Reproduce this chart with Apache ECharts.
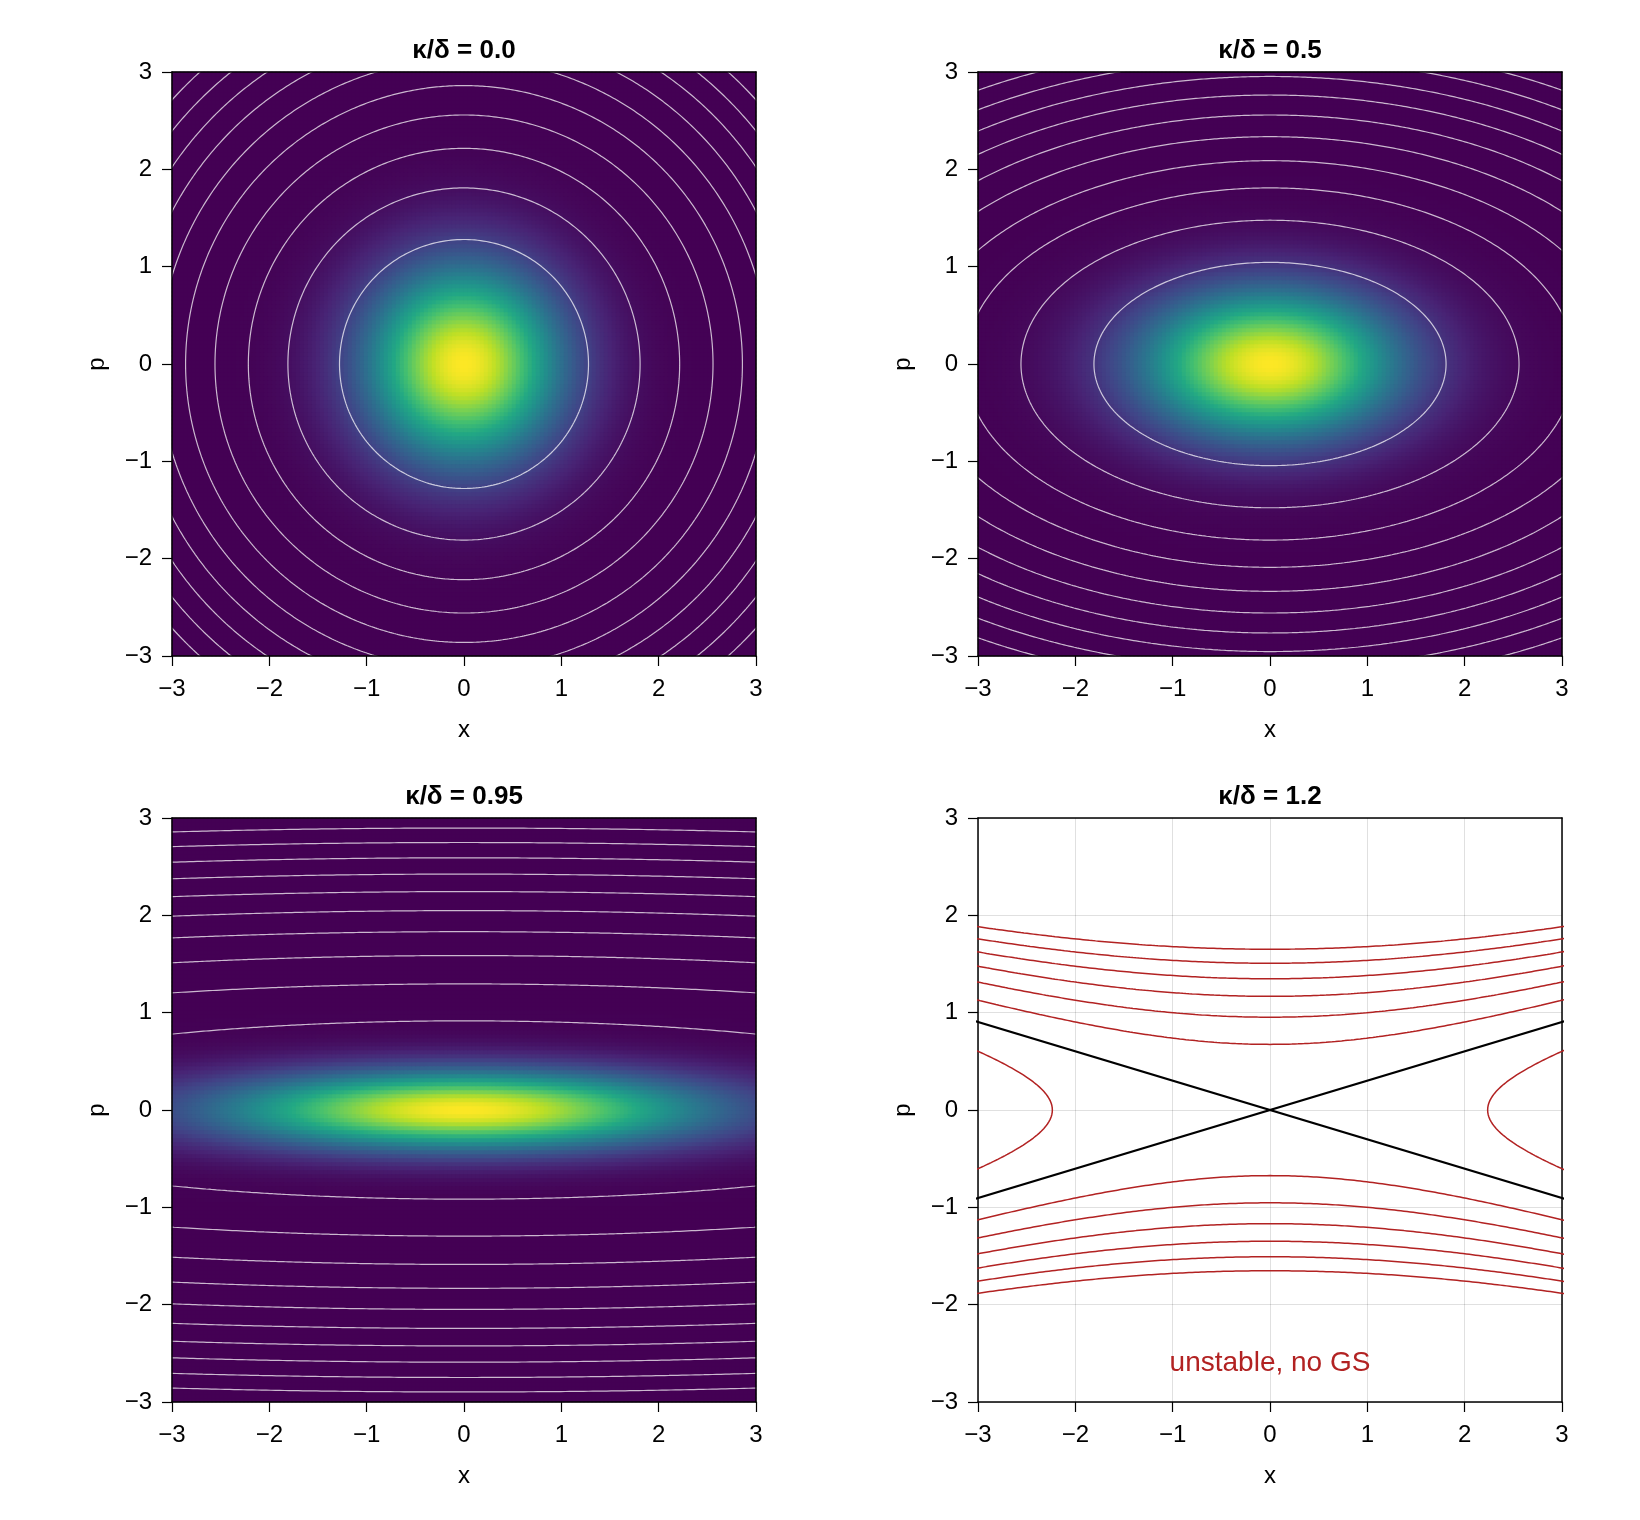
<!DOCTYPE html>
<html>
<head>
<meta charset="utf-8">
<title>phase space, kappa/delta</title>
<script src="https://cdn.jsdelivr.net/npm/echarts@6/dist/echarts.min.js"></script>
<style>
  html, body { margin: 0; padding: 0; background: #fff; }
  #mychart { width: 1640px; height: 1520px; }
</style>
</head>
<body>
<div id="mychart"></div>
<script>
// values
var ratios = [0.0, 0.5, 0.95, 1.2];
var titles = ['κ/δ = 0.0', 'κ/δ = 0.5', 'κ/δ = 0.95', 'κ/δ = 1.2'];
var tickValues = [-3, -2, -1, 0, 1, 2, 3];
// ground state widths (variance in x and p) for the three stable panels
var varX = [0.5, 0.866, 3.122];
var varP = [0.5, 0.289, 0.080];
// energy levels of the white contours, H = (1-r)x^2 + (1+r)p^2
var stableLevels = [1.636, 3.273, 4.909, 6.545, 8.182, 9.818, 11.455, 13.091, 14.727, 16.364];
// red contours of the unstable panel, black separatrix
var unstableLevels = [-1, 1, 2, 3, 4, 5, 6];
var separatrixLevel = 0;
var noteText = 'unstable, no GS';
var notePos = [0, -2.6];

var viridis = ['#440154', '#482475', '#414487', '#355f8d', '#2a788e', '#21918c',
  '#22a884', '#44bf70', '#7ad151', '#bddf26', '#fde725'];
var FONT = "'Liberation Sans', Arial, sans-serif";
var lefts = [172, 978];
var tops = [72, 818];
var SIZE = 584;
var NCELL = 146; // 4px cells, tiles the 584px plot exactly

var cellCenters = [];
for (var i = 0; i < NCELL; i++) {
  cellCenters.push(-3 + 6 * (i + 0.5) / NCELL);
}

function minusSign(v) {
  return String(v).replace('-', '\u2212');
}

function heatData(k) {
  var out = [];
  for (var j = 0; j < NCELL; j++) {
    for (var i = 0; i < NCELL; i++) {
      var x = cellCenters[i], p = cellCenters[j];
      out.push([i, j, Math.exp(-x * x / (2 * varX[k]) - p * p / (2 * varP[k]))]);
    }
  }
  return out;
}

// closed contour (ellipse) of H = h
function ellipse(r, h) {
  var rx = Math.sqrt(h / (1 - r)), ry = Math.sqrt(h / (1 + r));
  var pts = [];
  var n = 2400;
  for (var i = 0; i <= n; i++) {
    var t = 2 * Math.PI * i / n;
    pts.push([rx * Math.cos(t), ry * Math.sin(t)]);
  }
  return pts;
}

// open contour branches for r > 1
function hyperbola(r, h, sign) {
  var a = 1 - r, b = 1 + r;
  var pts = [], i, n = 200;
  if (h > 0) {
    for (i = 0; i <= n; i++) {
      var x = -3.2 + 6.4 * i / n;
      pts.push([x, sign * Math.sqrt((h - a * x * x) / b)]);
    }
  } else if (h < 0) {
    for (i = 0; i <= n; i++) {
      var p = -1.2 + 2.4 * i / n;
      pts.push([sign * Math.sqrt((b * p * p - h) / -a), p]);
    }
  } else {
    var s = Math.sqrt(-a / b);
    pts.push([-3.2, -sign * s * 3.2], [3.2, sign * s * 3.2]);
  }
  return pts;
}

function getOption() {
  var grid = [], xAxis = [], yAxis = [], series = [], title = [], visualMap = [];
  for (var k = 0; k < 4; k++) {
    var col = k % 2, row = Math.floor(k / 2);
    var heat = k < 3;
    var z = heat ? 10 : 0;
    var lineStyle = { color: '#000', width: 1.5 };
    grid.push({ left: lefts[col], top: tops[row], width: SIZE, height: SIZE,
      containLabel: false, outerBoundsMode: 'none' });
    title.push({
      text: titles[k], left: lefts[col] + SIZE / 2, top: tops[row] - 34,
      textAlign: 'center', padding: 0,
      textStyle: { fontSize: 26, fontWeight: 'bold', color: '#000', fontFamily: FONT }
    });
    var nameStyle = { fontSize: 24, color: '#000', fontFamily: FONT };
    var labelStyle = { fontSize: 24, color: '#000', fontFamily: FONT, formatter: minusSign };
    var split = { show: !heat, lineStyle: { color: 'rgba(0,0,0,0.12)', width: 1 } };
    xAxis.push({
      gridIndex: k, type: 'value', position: 'bottom', min: -3, max: 3, interval: 1, z: z,
      name: 'x', nameLocation: 'middle', nameGap: 62, nameTextStyle: nameStyle,
      axisLine: { show: true, onZero: false, lineStyle: lineStyle },
      axisTick: { show: true, inside: false, length: 10, lineStyle: { color: '#000', width: 1.2 } },
      axisLabel: Object.assign({ margin: 21 }, labelStyle),
      splitLine: split
    });
    yAxis.push({
      gridIndex: k, type: 'value', position: 'left', min: -3, max: 3, interval: 1, z: z,
      name: 'p', nameLocation: 'middle', nameGap: 63, nameRotate: 90, nameTextStyle: nameStyle,
      axisLine: { show: true, onZero: false, lineStyle: lineStyle },
      axisTick: { show: true, inside: false, length: 10, lineStyle: { color: '#000', width: 1.2 } },
      axisLabel: Object.assign({ margin: 20 }, labelStyle),
      splitLine: split
    });
    // second pair of axes: frame on top/right, and the cell grid for the heatmap
    var frameX = {
      gridIndex: k, position: 'top', z: z,
      axisLine: { show: true, onZero: false, lineStyle: lineStyle },
      axisTick: { show: false }, axisLabel: { show: false }, splitLine: { show: false }
    };
    var frameY = {
      gridIndex: k, position: 'right', z: z,
      axisLine: { show: true, onZero: false, lineStyle: lineStyle },
      axisTick: { show: false }, axisLabel: { show: false }, splitLine: { show: false }
    };
    if (heat) {
      frameX.type = 'category'; frameX.data = cellCenters; frameX.boundaryGap = true;
      frameY.type = 'category'; frameY.data = cellCenters; frameY.boundaryGap = true;
    } else {
      frameX.type = 'value'; frameX.min = -3; frameX.max = 3;
      frameY.type = 'value'; frameY.min = -3; frameY.max = 3;
    }
    xAxis.push(frameX);
    yAxis.push(frameY);

    var xi = 2 * k, yi = 2 * k;
    if (heat) {
      visualMap.push({
        type: 'continuous', show: false, seriesIndex: series.length,
        min: 0, max: 1, inRange: { color: viridis }
      });
      series.push({
        type: 'heatmap', xAxisIndex: 2 * k + 1, yAxisIndex: 2 * k + 1,
        data: heatData(k), progressive: 0, silent: true, z: 1,
        itemStyle: { borderWidth: 0, borderColor: 'transparent' },
        emphasis: { disabled: true }
      });
      for (var l = 0; l < stableLevels.length; l++) {
        series.push({
          type: 'line', xAxisIndex: xi, yAxisIndex: yi, data: ellipse(ratios[k], stableLevels[l]),
          showSymbol: false, symbol: 'none', silent: true, clip: true, z: 3,
          lineStyle: { color: 'rgba(255,255,255,0.72)', width: 1.2 }
        });
      }
    } else {
      for (var m = 0; m < unstableLevels.length; m++) {
        [1, -1].forEach(function (sg) {
          series.push({
            type: 'line', xAxisIndex: xi, yAxisIndex: yi,
            data: hyperbola(ratios[k], unstableLevels[m], sg),
            showSymbol: false, symbol: 'none', silent: true, clip: true, z: 3,
            lineStyle: { color: '#b22222', width: 1.5 }
          });
        });
      }
      [1, -1].forEach(function (sg) {
        series.push({
          type: 'line', xAxisIndex: xi, yAxisIndex: yi,
          data: hyperbola(ratios[k], separatrixLevel, sg),
          showSymbol: false, symbol: 'none', silent: true, clip: true, z: 4,
          lineStyle: { color: '#000', width: 2.3 }
        });
      });
      series.push({
        type: 'scatter', xAxisIndex: xi, yAxisIndex: yi, data: [notePos],
        symbolSize: 0, itemStyle: { color: '#b22222', opacity: 1 }, silent: true, z: 5,
        label: { show: true, position: 'inside', formatter: noteText, opacity: 1,
          color: '#b22222', textBorderWidth: 0, fontSize: 28, fontFamily: FONT }
      });
    }
  }
  return {
    animation: false,
    backgroundColor: '#fff',
    textStyle: { fontFamily: FONT },
    title: title,
    grid: grid,
    xAxis: xAxis,
    yAxis: yAxis,
    visualMap: visualMap,
    series: series
  };
}

var chart = echarts.init(document.getElementById('mychart'));
chart.setOption(getOption());
</script>
</body>
</html>
